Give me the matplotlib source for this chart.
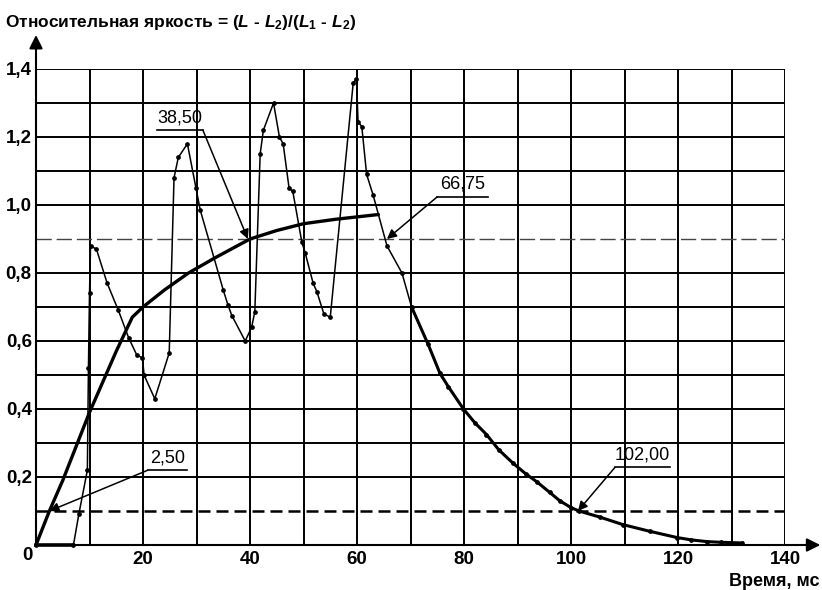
#!/usr/bin/env python3
"""
Relative luminance vs time with threshold crossings
"""

import matplotlib
matplotlib.use('Agg')
import matplotlib.pyplot as plt

plt.rcParams['font.family'] = ['Liberation Sans', 'DejaVu Sans']
plt.rcParams['mathtext.fontset'] = 'custom'
plt.rcParams['mathtext.rm'] = 'Liberation Sans:bold'
plt.rcParams['mathtext.it'] = 'Liberation Sans:italic:bold'
plt.rcParams['mathtext.bf'] = 'Liberation Sans:bold'

# measured response (thin line with points), time in ms
thin_t = [0, 7, 8.0, 9.6, 9.8, 10.0, 10.2, 11.3, 13.3, 15.4, 17.3, 18.8, 19.9,
          20.2, 22.2, 24.9, 25.8, 26.6, 28.3, 29.9, 30.7, 35.0, 35.9, 36.6,
          39.1, 40.3, 40.9, 41.9, 42.5, 44.4, 45.5, 46.2, 47.3, 48.0, 49.7,
          50.3, 51.8, 52.5, 53.8, 55.0, 59.3, 59.9, 60.2, 60.9, 61.8, 63.0,
          65.6, 68.4, 70.2, 73.3, 75.5, 77.1, 79.9, 82.0, 84.2, 86.5, 89.2,
          91.5, 93.6, 96.0, 97.9, 100.0, 101.5, 105.4, 109.7, 114.8, 119.8,
          122.5, 125.4, 128.0, 132.0]
thin_v = [0, 0, 0.09, 0.22, 0.52, 0.74, 0.88, 0.87, 0.77, 0.69, 0.61, 0.56, 0.55,
          0.50, 0.43, 0.565, 1.08, 1.14, 1.18, 1.05, 0.985, 0.75, 0.705, 0.675,
          0.60, 0.64, 0.686, 1.15, 1.22, 1.30, 1.20, 1.18, 1.05, 1.04, 0.89,
          0.86, 0.77, 0.745, 0.68, 0.67, 1.36, 1.37, 1.245, 1.23, 1.09, 1.03,
          0.88, 0.80, 0.70, 0.59, 0.505, 0.465, 0.40, 0.36, 0.325, 0.28, 0.24,
          0.21, 0.186, 0.155, 0.13, 0.11, 0.10, 0.082, 0.06, 0.04, 0.022,
          0.015, 0.01, 0.008, 0.006]

# smoothed (thick) curve
thick_t = [0, 2.5, 5, 10, 15, 18, 20, 24, 28.5, 33.5, 40, 45, 50, 56, 64]
thick_v = [0, 0.1, 0.19, 0.39, 0.57, 0.67, 0.7, 0.75, 0.8, 0.845, 0.9, 0.925,
           0.945, 0.958, 0.972]

# threshold levels
levels = [0.1, 0.9]

# crossing labels and the points they mark
ann_labels = ['2,50', '38,50', '66,75', '102,00']
ann_x = [2.5, 39.6, 65.6, 101.3]
ann_y = [0.1, 0.9, 0.9, 0.1]

x_ticks = [20, 40, 60, 80, 100, 120, 140]
y_ticks = [0.2, 0.4, 0.6, 0.8, 1.0, 1.2, 1.4]

fig = plt.figure(figsize=(8.22, 5.9), dpi=100)
ax = fig.add_axes([36 / 822, 45 / 590, 749 / 822, 476 / 590])
ax.set_xlim(0, 140)
ax.set_ylim(0, 1.4)
for s in ax.spines.values():
    s.set_visible(False)

# grid
for xv in range(10, 141, 10):
    ax.axvline(xv, color='k', lw=1.4, zorder=1)
for i in range(1, 15):
    yv = i / 10
    if any(abs(yv - l) < 1e-9 for l in levels):
        continue
    ax.axhline(yv, color='k', lw=1.4, zorder=1)

ax.axhline(levels[1], color='#444444', lw=1.0, dashes=(11, 3.5), zorder=1)
ax.axhline(levels[0], color='k', lw=1.8, dashes=(4.8, 2.4), zorder=1)

# axes with arrows
ax.annotate('', xy=(0, 1.5), xytext=(0, 0), annotation_clip=False,
            arrowprops=dict(arrowstyle='-|>', lw=1.5, color='k',
                            mutation_scale=20, shrinkA=0, shrinkB=0))
ax.annotate('', xy=(146.6, 0), xytext=(0, 0), annotation_clip=False,
            arrowprops=dict(arrowstyle='-|>', lw=1.5, color='k',
                            mutation_scale=20, shrinkA=0, shrinkB=0))

# curves
ax.plot(thin_t, thin_v, color='k', lw=1.1, marker='o', ms=2.4, zorder=3,
        clip_on=False)
ax.plot(thin_t[:2], thin_v[:2], color='k', lw=2.6, zorder=3, clip_on=False)
tail = [i for i, t in enumerate(thin_t) if t >= 70]
ax.plot([thin_t[i] for i in tail], [thin_v[i] for i in tail], color='k',
        lw=2.2, zorder=3)
ax.plot(thick_t, thick_v, color='k', lw=2.4, zorder=4, solid_capstyle='round')

# crossing annotations: underline span (x0, x1) and height
label_pos = [(20.9, 28.2, 0.22), (22.6, 31.2, 1.22),
             (75.0, 84.5, 1.024), (108.2, 118.5, 0.228)]
starts = ['left', 'right', 'left', 'left']
for lab, tx, ty, (x0, x1, yl), st in zip(ann_labels, ann_x, ann_y, label_pos, starts):
    ax.plot([x0, x1], [yl, yl], color='k', lw=1.2, zorder=5)
    ax.text((x0 + x1) / 2, yl + 0.012, lab, ha='center', va='bottom',
            fontsize=13, zorder=5)
    sx = x0 if st == 'left' else x1
    ax.annotate('', xy=(tx, ty), xytext=(sx, yl),
                arrowprops=dict(arrowstyle='-|>', lw=1.1, color='k',
                                mutation_scale=14, shrinkA=0, shrinkB=0),
                zorder=6)

# ticks
ax.set_xticks(x_ticks, [str(v) for v in x_ticks])
ax.set_yticks(y_ticks, [f'{v:.1f}'.replace('.', ',') for v in y_ticks])
ax.tick_params(length=0, labelsize=13.5)
ax.tick_params(axis='x', pad=4.5)
ax.tick_params(axis='y', pad=3)
for lbl in ax.get_xticklabels() + ax.get_yticklabels():
    lbl.set_fontweight('bold')
ax.text(-1.6, -0.03, '0', ha='center', va='center', fontsize=13.5,
        fontweight='bold')

fig.text(5 / 822, 1 - 27 / 590,
         'Относительная яркость = $(L$ - $L_2)/(L_1$ - $L_2)$',
         ha='left', va='baseline', fontsize=12.5, fontweight='bold')
fig.text(819 / 822, 1 - 586 / 590, 'Время, мс', ha='right', va='baseline',
         fontsize=13, fontweight='bold')

fig.savefig('out.png', dpi=100)
